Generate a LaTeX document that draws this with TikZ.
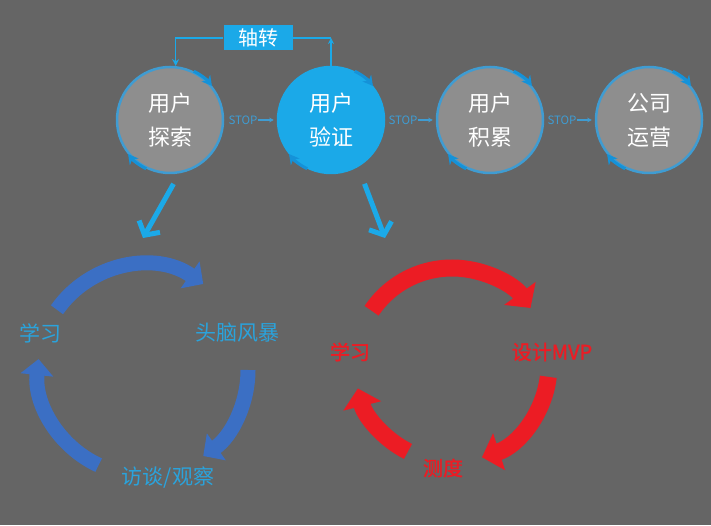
\documentclass[tikz,border=0pt]{standalone}
\usepackage{fontspec}
\newfontfamily\cjk{Noto Sans CJK SC}
\newfontfamily\cjkheavy[FakeBold=1.5]{Noto Sans CJK SC}
\usetikzlibrary{arrows.meta, calc}
\definecolor{bggray}{HTML}{656565}
\definecolor{stagegray}{HTML}{8E8E8E}
\definecolor{pivotblue}{HTML}{1BA9E8}
\definecolor{ringblue}{HTML}{3F9CD2}
\definecolor{tipblue}{HTML}{1592D8}
\definecolor{loopblue}{HTML}{3B6FC4}
\definecolor{labelblue}{HTML}{2AA3DC}
\definecolor{loopred}{HTML}{EC1C24}

\begin{document}
\begin{tikzpicture}[x=1pt, y=1pt,
    every node/.style={font=\cjk},
    stage/.style={circle, draw=ringblue, line width=2.5pt, fill=stagegray, minimum size=106pt, inner sep=0pt, align=center, text=white, font=\cjk\fontsize{22}{34}\selectfont},
    ringtip/.style={tipblue, line width=3pt, -{Stealth[length=10pt, width=11pt]}},
    stoplbl/.style={text=ringblue, inner sep=0pt, font=\cjk\fontsize{11.5}{12}\selectfont},
    stoparrow/.style={ringblue, line width=1.3pt, -{Stealth[length=4.5pt, width=4.5pt]}, shorten >=3pt},
    pivotline/.style={pivotblue, line width=1.5pt},
    bigarrow/.style={pivotblue, line width=5pt, -{Straight Barb[length=10pt, width=24pt]}},
    loopA/.style={loopblue, line width=15pt, -{Triangle[length=16pt, width=32pt]}},
    loopB/.style={loopred, line width=17pt, -{Triangle[length=18pt, width=38pt]}},
    looplbl/.style={text=labelblue, inner sep=0pt, font=\cjk\fontsize{21}{24}\selectfont},
    redlbl/.style={text=loopred, inner sep=0pt, font=\cjkheavy\fontsize{20}{24}\selectfont},
  ]
  % Background
  \fill[bggray] (0,0) rectangle (711,525);
  \useasboundingbox (0,0) rectangle (711,525);

  % Stages
  \node[stage] (c1) at (170,405) {用户\\探索};
  \node[stage, fill=pivotblue, draw=pivotblue] (c2) at (331,405) {用户\\验证};
  \node[stage] (c3) at (490,405) {用户\\积累};
  \node[stage] (c4) at (649,405) {公司\\运营};
  \foreach \s in {c1,c2,c3,c4} {
    \draw[ringtip] (\s.64) arc[start angle=64, end angle=38, radius=52];
    \draw[ringtip] (\s.244) arc[start angle=244, end angle=218, radius=52];
  }

  % STOP steps
  \node[stoplbl] (s1) at (243,405) {STOP};
  \node[stoplbl] (s2) at (403,405) {STOP};
  \node[stoplbl] (s3) at (562,405) {STOP};
  \draw[stoparrow] (s1.east) -- (c2.west);
  \draw[stoparrow] (s2.east) -- (c3.west);
  \draw[stoparrow] (s3.east) -- (c4.west);

  % Pivot
  \node[fill=pivotblue, text=white, minimum width=69pt, minimum height=25pt, inner sep=0pt, font=\cjk\fontsize{20}{22}\selectfont] (pivot) at (258,487) {轴转};
  \coordinate (turn) at (c2.north |- pivot.east);
  \draw[pivotline, -{Stealth[length=6pt, width=6pt]}] (c2.north) -- (turn);
  \draw[pivotline] (turn) -- (pivot.east);
  \draw[pivotline, -{Stealth[length=7pt, width=7pt]}] (pivot.west) -| (c1.84);

  % Into the loops
  \coordinate (exploreloop) at (143,287);
  \coordinate (verifyloop) at (385,287);
  \draw[bigarrow, shorten <=12pt] (c1.-80) -- (exploreloop);
  \draw[bigarrow, shorten <=18pt] (c2.-60) -- (verifyloop);

  % Explore loop
  \coordinate (lc) at (143,155);
  \draw[loopA] ([shift={(145:105)}]lc) arc[start angle=145, end angle=55, radius=105];
  \draw[loopA] ([shift={(0:105)}]lc) arc[start angle=0, end angle=-55, radius=105];
  \draw[loopA] ([shift={(245:105)}]lc) arc[start angle=245, end angle=174, radius=105];
  \node[looplbl] (learnA) at (40,192) {学习};
  \node[looplbl] (brainstorm) at (237,192) {头脑风暴};
  \node[looplbl] (interview) at (168,47) {访谈/观察};

  % Verify loop
  \coordinate (rc) at (452,160);
  \draw[loopB] ([shift={(146:97)}]rc) arc[start angle=146, end angle=36, radius=97];
  \draw[loopB] ([shift={(-7:97)}]rc) arc[start angle=-7, end angle=-72, radius=97];
  \draw[loopB] ([shift={(243:97)}]rc) arc[start angle=243, end angle=194, radius=97];
  \node[redlbl] (learnB) at (350,173) {学习};
  \node[redlbl] (mvp) at (552,173) {设计MVP};
  \node[redlbl] (measure) at (443,57) {测度};
\end{tikzpicture}
\end{document}
